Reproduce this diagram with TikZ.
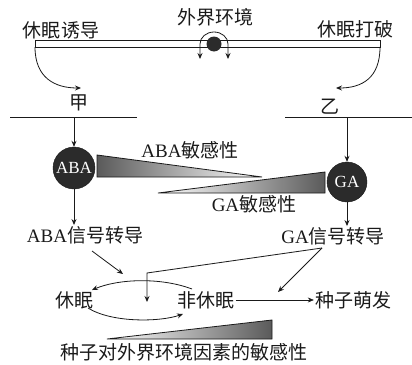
\documentclass[tikz,border=0pt]{standalone}
\usepackage{fontspec}
\setmainfont{Liberation Serif}
\newfontfamily\cjk{Noto Sans CJK SC}
\usetikzlibrary{arrows.meta,calc,positioning}
\definecolor{Ink}{HTML}{1A1A1A}
\definecolor{Ball}{HTML}{2B2B2B}
\definecolor{Shade}{HTML}{5A5A5A}
\tikzset{lbl/.style={inner sep=1pt,text=Ink,font=\fontsize{19}{22}\selectfont},hormone/.style={circle,fill=Ball,draw=Ink,text=white,inner sep=0pt,font=\fontsize{17}{20}\selectfont},flow/.style={-{Stealth[length=6pt,width=5pt,inset=2pt]},line width=.8pt,draw=Ink},wedge/.style={draw=Ink,line width=.8pt}}
\begin{document}
\begin{tikzpicture}[x=1pt,y=-1pt]
        \useasboundingbox (0,0) rectangle (412,364);
        % top: environment bar
        \node[lbl] (induce) at (61,30) {\cjk 休眠诱导};
        \node[lbl] (env) at (215,17) {\cjk 外界环境};
        \node[lbl] (brk) at (355,29) {\cjk 休眠打破};
        \draw[wedge] (35,40) rectangle (380,47);
        \coordinate (barL) at (35,47);
        \coordinate (barR) at (380,47);
        \node[circle,fill=Ball,minimum size=15pt,inner sep=0pt] (seed) at (214,44) {};
        \draw[{Stealth[length=6pt,width=5pt,inset=2pt]}-{Stealth[length=6pt,width=5pt,inset=2pt]},line width=.8pt,Ink]
          (200,59) -- (200,44) arc[start angle=180,end angle=360,x radius=14,y radius=12] -- (228,59);
        \node[lbl] (jia) at (79,103) {\cjk 甲};
        \node[lbl] (yi) at (330,107) {\cjk 乙};
        \draw[flow] (barL) .. controls (35,78) and (55,88) .. (81,88);
        \draw[flow] (barR) .. controls (380,78) and (362,88) .. (336,88);
        \draw[line width=.8pt,Ink] (10,117) -- (137,117);
        \draw[line width=.8pt,Ink] (285,117) -- (412,117);
        % hormones
        \node[hormone,minimum size=42pt] (aba) at (74,168) {ABA};
        \node[hormone,minimum size=40pt] (ga) at (347,182) {GA};
        \draw[flow] (aba.north |- 0,117) -- (aba.north);
        \draw[flow] (ga.north |- 0,117) -- (ga.north);
        \shade[left color=Shade,right color=white] (97,155) -- (262,177) -- (97,177) -- cycle;
        \draw[wedge] (97,155) -- (262,177) -- (97,177) -- cycle;
        \shade[left color=white,right color=Shade] (158,193) -- (325,172) -- (325,193) -- cycle;
        \draw[wedge] (158,193) -- (325,172) -- (325,193) -- cycle;
        \node[lbl] (abasens) at (190,150) {ABA\cjk 敏感性};
        \node[lbl] (gasens) at (254,204) {GA\cjk 敏感性};
        % signalling
        \node[lbl] (sigA) at (85,235) {ABA\cjk 信号转导};
        \node[lbl] (sigG) at (333,236) {GA\cjk 信号转导};
        \draw[flow] (aba.south) -- (aba.south |- sigA.north);
        \draw[flow] (ga.south) -- (ga.south |- sigG.north);
        % dormancy states
        \node[lbl] (dorm) at (74,300) {\cjk 休眠};
        \node[lbl] (nondorm) at (206,300) {\cjk 非休眠};
        \node[lbl] (germ) at (353,300) {\cjk 种子萌发};
        \coordinate (aOut) at (92,251);
        \coordinate (gOut) at (322,248);
        \draw[flow] (aOut) -- (123,274);
        \draw[flow] (gOut) -- (278,292);
        \draw[flow] (gOut) -- (147,273) -- (147,302);
        \draw[flow] (192,289) .. controls (160,277) and (118,279) .. (92,290);
        \draw[flow] (88,308) .. controls (112,323) and (160,322) .. (183,314);
        \draw[flow,line width=.6pt] (nondorm.east) -- (germ.west);
        % sensitivity to environment
        \shade[left color=white,right color=Shade] (107,339) -- (272,320) -- (272,339) -- cycle;
        \draw[wedge] (107,339) -- (272,320) -- (272,339) -- cycle;
        \node[lbl] (envsens) at (184,352) {\cjk 种子对外界环境因素的敏感性};
      \end{tikzpicture}
\end{document}
